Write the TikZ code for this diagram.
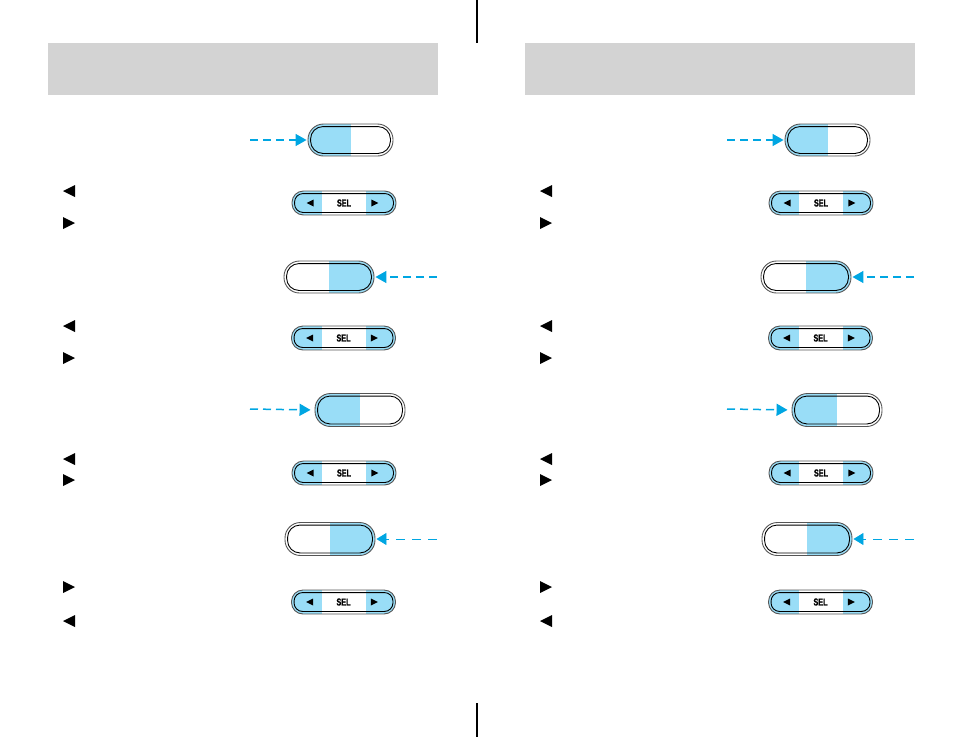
\documentclass[tikz,border=0pt]{standalone}
\usepackage{fontspec}
\usepackage{graphicx}
\newfontfamily\selfont[FakeBold=1.5]{Liberation Sans Bold}
\usetikzlibrary{arrows.meta}
\definecolor{btnblue}{RGB}{153,221,247}
\definecolor{arrowblue}{RGB}{0,166,226}
\definecolor{hdrgray}{RGB}{211,211,211}
\definecolor{rimgray}{RGB}{85,85,85}
\tikzset{
  pill/.style={rectangle, draw=rimgray, line width=0.9pt, inner sep=0pt, rounded corners=#1},
  pillL/.style={pill=15.5pt, minimum height=32pt,
    path picture={\fill[btnblue, sharp corners] (path picture bounding box.south west) rectangle (path picture bounding box.north);}},
  pillR/.style={pill=15.5pt, minimum height=32pt,
    path picture={\fill[btnblue, sharp corners] (path picture bounding box.south) rectangle (path picture bounding box.north east);}},
  selbtn/.style={pill=11.5pt, minimum width=104pt, minimum height=24pt,
    font=\selfont\fontsize{10}{10}\selectfont,
    path picture={\fill[btnblue, sharp corners] (path picture bounding box.south west) rectangle ([xshift=30pt]path picture bounding box.north west);
                  \fill[btnblue, sharp corners] ([xshift=-30pt]path picture bounding box.south east) rectangle (path picture bounding box.north east);}},
  arrowline/.style={draw=arrowblue, line width=1.5pt, dash pattern=on 8pt off 5pt,
    -{Triangle[length=11pt,width=12pt]}, shorten >=1pt},
  arrowthin/.style={draw=arrowblue, line width=0.9pt, dash pattern=on 9pt off 7pt,
    -{Triangle[length=10pt,width=12pt]}, shorten >=1pt},
  rule/.style={line width=1.2pt}
}
\newcommand\innerpill[2]{\draw[line width=0.9pt, rounded corners=#2] ([shift={(3,3)}]#1.north west) rectangle ([shift={(-3,-3)}]#1.south east);}
\newcommand\seltris[1]{%
  \fill ([xshift=15pt]#1.west) -- ++(7,-3.5) -- ++(0,7) -- cycle;
  \fill ([xshift=-18pt]#1.east) -- ++(-7,-3.5) -- ++(0,7) -- cycle;}
\newcommand\tleft[1]{\fill (63,#1) -- (75,#1-6) -- (75,#1+6) -- cycle;}
\newcommand\tright[1]{\fill (75,#1) -- (63,#1-6) -- (63,#1+6) -- cycle;}
\begin{document}
\begin{tikzpicture}[x=1pt,y=-1pt]
\useasboundingbox (0,0) rectangle (954,737);
\coordinate (t0) at (477,0);
\coordinate (t1) at (477,43);
\coordinate (u0) at (477,703);
\coordinate (u1) at (477,737);
\draw[rule] (t0) -- (t1);
\draw[rule] (u0) -- (u1);
\foreach \pg/\dx in {L/0,R/477}{
\begin{scope}[xshift=\dx pt]
  \fill[hdrgray] (48,43) rectangle (438,95);
  % row 1
  \node[pillL, minimum width=85pt] (b1\pg) at (350.5,140) {};
  \innerpill{b1\pg}{12.5pt}
  \coordinate (c1\pg) at (250,140);
  \draw[arrowline] (c1\pg) -- (b1\pg.west);
  \node[selbtn] (s1\pg) at (344,203) {\scalebox{0.72}[1]{SEL}};
  \innerpill{s1\pg}{8.5pt}
  \seltris{s1\pg}
  \tleft{191}
  \tright{223}
  % row 2
  \node[pillR, minimum width=90pt] (b2\pg) at (329,277) {};
  \innerpill{b2\pg}{12.5pt}
  \coordinate (c2\pg) at (437,277);
  \draw[arrowline] (c2\pg) -- (b2\pg.east);
  \node[selbtn] (s2\pg) at (343.5,338) {\scalebox{0.72}[1]{SEL}};
  \innerpill{s2\pg}{8.5pt}
  \seltris{s2\pg}
  \tleft{326}
  \tright{358}
  % row 3
  \node[pillL, minimum width=90pt, minimum height=33pt] (b3\pg) at (360,410) {};
  \innerpill{b3\pg}{12.5pt}
  \coordinate (c3\pg) at (250,409);
  \draw[arrowline, shorten >=4pt] (c3\pg) -- (b3\pg.west);
  \node[selbtn] (s3\pg) at (344,473) {\scalebox{0.72}[1]{SEL}};
  \innerpill{s3\pg}{8.5pt}
  \seltris{s3\pg}
  \tleft{459}
  \tright{480}
  % row 4
  \node[pillR, minimum width=90pt, minimum height=33pt] (b4\pg) at (330,539) {};
  \innerpill{b4\pg}{12.5pt}
  \coordinate (c4\pg) at (437,539);
  \draw[arrowthin] (c4\pg) -- (b4\pg.east);
  \node[selbtn] (s4\pg) at (343.5,602) {\scalebox{0.72}[1]{SEL}};
  \innerpill{s4\pg}{8.5pt}
  \seltris{s4\pg}
  \tright{587}
  \tleft{621}
\end{scope}
}
\end{tikzpicture}
\end{document}
